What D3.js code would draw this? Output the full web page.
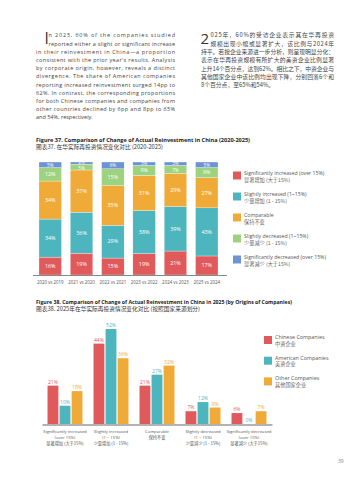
<!DOCTYPE html>
<html>
<head>
<meta charset="utf-8">
<script src="https://cdn.jsdelivr.net/npm/d3@7"></script>
<style>
body { margin: 0; background: #fff; }
svg { display: block; }
</style>
</head>
<body>
<script>
// Figure 37 - change of reinvestment per year (percent)
var periods = ["2020 vs 2019", "2021 vs 2020", "2022 vs 2021", "2023 vs 2022", "2024 vs 2023", "2025 vs 2024"];
var sigIncreased    = [16, 19, 15, 19, 21, 17];
var slightIncreased = [34, 36, 29, 38, 39, 43];
var comparable      = [34, 37, 35, 31, 29, 27];
var slightDecreased = [12, 5, 15, 9, 7, 9];
var sigDecreased    = [5, 2, 6, 3, 3, 5];

var changeKeys = ["sigInc", "slightInc", "comparable", "slightDec", "sigDec"];
var changeEn = ["Significantly increased (over 15%)", "Slightly increased (1~15%)", "Comparable", "Slightly decreased (1~15%)", "Significantly decreased (over 15%)"];
var changeZh = ["显著增加 (大于15%)", "少量增加 (1 - 15%)", "保持不变", "少量减少 (1 - 15%)", "显著减少 (大于15%)"];

// Figure 38 - 2025 by company origin (percent)
var origins = ["Chinese", "American", "Other"];
var originEn = ["Chinese Companies", "American Companies", "Other Companies"];
var originZh = ["中资企业", "美资企业", "其他国家企业"];
var chinese  = [21, 44, 21, 7, 6];
var american = [10, 52, 27, 12, 0];
var other    = [18, 36, 32, 9, 7];
var catLabels = [
  ["Significantly increased", "(over 15%)", "显著增加 (大于15%)"],
  ["Slightly increased", "(1 ~ 15%)", "少量增加 (1 - 15%)"],
  ["Comparable", "保持不变"],
  ["Slightly decreased", "(1 ~ 15%)", "少量减少 (1 - 15%)"],
  ["Significantly decreased", "(over 15%)", "显著减少 (大于15%)"]
];

var changeColors = ["#e05a5c", "#4db5be", "#efaa38", "#9dd37e", "#6e93d3"];
var originColors = ["#e05a5c", "#4db5be", "#efaa38"];

var EN = "'Open Sans', 'Noto Sans', sans-serif";
var ZH = "'Noto Sans CJK SC', sans-serif";

var svg = d3.select("body").append("svg")
  .attr("width", 359)
  .attr("height", 480);

// ---- intro paragraphs ----
var enLines = [
  "n 2025, 60% of the companies studied",
  "reported either a slight or significant increase",
  "in their reinvestment in China\u2014a proportion",
  "consistent with the prior year's results. Analysis",
  "by corporate origin, however, reveals a distinct",
  "divergence. The share of American companies",
  "reporting increased reinvestment surged 14pp to",
  "62%. In contrast, the corresponding proportions",
  "for both Chinese companies and companies from",
  "other countries declined by 6pp and 8pp to 65%",
  "and 54%, respectively."
];
var zhLines = [
  "025年，60%的受访企业表示其在华再投资",
  "规模出现小幅或显著扩大，该比例与2024年",
  "持平。若按企业来源进一步分析，则呈现明显分化：",
  "表示在华再投资规模有所扩大的美资企业比例显著",
  "上升14个百分点，达到62%。相比之下，中资企业与",
  "其他国家企业中该比例均出现下降，分别回落6个和",
  "8个百分点，至65%和54%。"
];

function paragraph(lines, x0, xIndent, x1, y0, lh, font, size) {
  lines.forEach(function(t, i) {
    var x = i < 2 ? xIndent : x0;
    var txt = svg.append("text")
      .attr("x", x)
      .attr("y", y0 + i * lh)
      .style("font-family", font)
      .style("font-size", size + "px")
      .style("fill", "#444")
      .text(t);
    if (i < lines.length - 1) {
      txt.attr("textLength", x1 - x).attr("lengthAdjust", "spacing");
    }
  });
}

svg.append("text").attr("x", 44.5).attr("y", 43.5)
  .style("font-family", EN).style("font-size", "15.5px").style("fill", "#333")
  .text("I");
paragraph(enLines, 36, 48.5, 175, 37.3, 8.2, EN, 5.5);

svg.append("text").attr("x", 200.5).attr("y", 44.2)
  .style("font-family", EN).style("font-size", "15px").style("fill", "#333")
  .text("2");
paragraph(zhLines, 201, 210.5, 334, 37.3, 8.3, ZH, 5.8);

// ---- titles ----
function title(en, zh, y, enEnd, zhEnd) {
  svg.append("text").attr("x", 36).attr("y", y)
    .attr("textLength", enEnd - 36).attr("lengthAdjust", "spacingAndGlyphs")
    .style("font-family", EN).style("font-size", "5.6px").style("font-weight", "bold").style("fill", "#222")
    .text(en);
  svg.append("text").attr("x", 36).attr("y", y + 6.6)
    .attr("textLength", zhEnd - 36).attr("lengthAdjust", "spacingAndGlyphs")
    .style("font-family", ZH).style("font-size", "5.6px").style("fill", "#333")
    .text(zh);
}
title("Figure 37. Comparison of Change of Actual Reinvestment in China (2020-2025)",
      "图表37. 在华实际再投资情况变化对比 (2020-2025)", 142, 250, 163);
title("Figure 38. Comparison of Change of Actual Reinvestment in China in 2025 (by Origins of Companies)",
      "图表38. 2025年在华实际再投资情况变化对比 (按照国家来源划分)", 304, 292, 200);

// ---- Figure 37: stacked bars ----
var table = periods.map(function(p, i) {
  return {
    period: p,
    sigInc: sigIncreased[i],
    slightInc: slightIncreased[i],
    comparable: comparable[i],
    slightDec: slightDecreased[i],
    sigDec: sigDecreased[i]
  };
});

var x = d3.scaleBand().domain(periods).range([34.6, 222.4]).paddingInner(0.28).paddingOuter(0.14);
var y = d3.scaleLinear().domain([0, 1]).range([275, 162]);
var series = d3.stack().keys(changeKeys).offset(d3.stackOffsetExpand)(table);

var g1 = svg.append("g");
var layers = g1.selectAll("g.layer").data(series).enter().append("g")
  .attr("class", "layer")
  .style("fill", function(d, i) { return changeColors[i]; });

layers.selectAll("rect").data(function(d) { return d; }).enter().append("rect")
  .attr("x", function(d) { return x(d.data.period); })
  .attr("width", x.bandwidth())
  .attr("y", function(d) { return y(d[1]); })
  .attr("height", function(d) { return y(d[0]) - y(d[1]); })
  .style("stroke", "#fff").style("stroke-width", 0.3);

layers.each(function(s) {
  d3.select(this).selectAll("text").data(s).enter().append("text")
    .attr("x", function(d) { return x(d.data.period) + x.bandwidth() / 2; })
    .attr("y", function(d) {
      var v = d.data[s.key];
      // tiny top segments: nudge label so the two small ones do not collide
      var shift = v < 4 ? -0.6 : (v < 8 && s.key === "slightDec" ? 0.8 : 0);
      return (y(d[0]) + y(d[1])) / 2 + 1.8 + shift;
    })
    .attr("text-anchor", "middle")
    .style("font-family", EN)
    .style("font-size", function(d) { return d.data[s.key] < 8 ? "4.6px" : "5.4px"; })
    .style("fill", "#fff")
    .text(function(d) { return d.data[s.key] + "%"; });
});

var ax1 = g1.append("g").attr("transform", "translate(0,275.5)")
  .call(d3.axisBottom(x).tickSize(0).tickPadding(5));
ax1.select(".domain").attr("d", "M33,0H227").style("stroke", "#888").style("stroke-width", 1);
ax1.selectAll("text").style("font-family", EN).style("font-size", "4.4px").style("fill", "#555");

// legend 1
var leg1 = svg.append("g");
changeKeys.forEach(function(k, i) {
  var yy = 171.5 + i * 21;
  leg1.append("rect").attr("x", 233).attr("y", yy).attr("width", 8).attr("height", 8)
    .style("fill", changeColors[i]);
  leg1.append("text").attr("x", 244).attr("y", yy + 3)
    .style("font-family", EN).style("font-size", "5.2px").style("fill", "#555")
    .text(changeEn[i]);
  leg1.append("text").attr("x", 244).attr("y", yy + 10.5)
    .style("font-family", ZH).style("font-size", "5.2px").style("fill", "#666")
    .text(changeZh[i]);
});

// ---- Figure 38: grouped bars ----
var cats = catLabels.map(function(d, i) { return i; });
var groups = cats.map(function(i) {
  return { cat: i, values: [chinese[i], american[i], other[i]] };
});

var x0 = d3.scaleBand().domain(cats).range([42, 272]).paddingInner(0.24).paddingOuter(0.12);
var x1 = d3.scaleBand().domain(origins).range([0, x0.bandwidth()]).paddingInner(0.1);
var y2 = d3.scaleLinear().domain([0, 52]).range([424, 329]);

var g2 = svg.append("g");
var grp = g2.selectAll("g.grp").data(groups).enter().append("g")
  .attr("class", "grp")
  .attr("transform", function(d) { return "translate(" + x0(d.cat) + ",0)"; });

grp.selectAll("rect").data(function(d) { return d.values; }).enter().append("rect")
  .attr("x", function(d, i) { return x1(origins[i]); })
  .attr("width", x1.bandwidth())
  .attr("y", function(d) { return y2(d); })
  .attr("height", function(d) { return y2(0) - y2(d); })
  .style("fill", function(d, i) { return originColors[i]; });

grp.selectAll("text").data(function(d) { return d.values; }).enter().append("text")
  .attr("x", function(d, i) { return x1(origins[i]) + x1.bandwidth() / 2; })
  .attr("y", function(d) { return y2(d) - 2; })
  .attr("text-anchor", "middle")
  .style("font-family", EN).style("font-size", "5px")
  .style("fill", function(d, i) { return originColors[i]; })
  .text(function(d) { return d + "%"; });

var ax2 = g2.append("g").attr("transform", "translate(0,424.5)")
  .call(d3.axisBottom(x0).tickSize(0).tickFormat(""));
ax2.select(".domain").style("stroke", "#666").style("stroke-width", 1);
ax2.selectAll(".tick").each(function(c) {
  var t = d3.select(this).select("text").text(null).attr("y", 0).attr("dy", null);
  catLabels[c].forEach(function(line, j) {
    var isZh = /[\u4e00-\u9fff]/.test(line);
    t.append("tspan").attr("x", 0).attr("y", 8 + j * 6)
      .style("font-family", isZh ? ZH : EN)
      .style("font-size", "4.2px").style("fill", "#555")
      .text(line);
  });
});

// legend 2
var leg2 = svg.append("g");
origins.forEach(function(o, i) {
  var yy = 336 + i * 20.7;
  leg2.append("rect").attr("x", 264).attr("y", yy).attr("width", 8).attr("height", 8)
    .style("fill", originColors[i]);
  leg2.append("text").attr("x", 275).attr("y", yy + 3)
    .style("font-family", EN).style("font-size", "5.4px").style("fill", "#555")
    .text(originEn[i]);
  leg2.append("text").attr("x", 275).attr("y", yy + 9.5)
    .style("font-family", ZH).style("font-size", "5.2px").style("fill", "#666")
    .text(originZh[i]);
});

// page number
svg.append("text").attr("x", 338).attr("y", 463)
  .style("font-family", EN).style("font-size", "5px").style("fill", "#888")
  .text("39");
</script>
</body>
</html>
